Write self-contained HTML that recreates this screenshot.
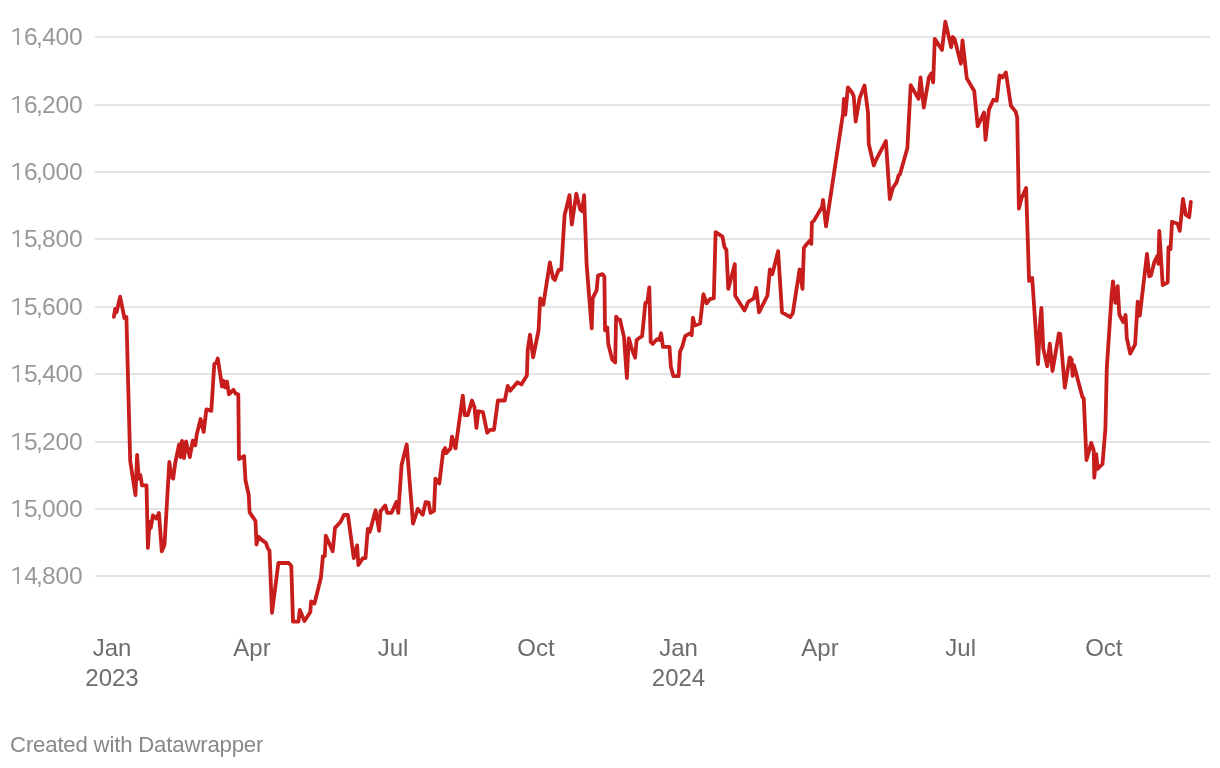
<!DOCTYPE html>
<html><head><meta charset="utf-8"><style>
html,body{margin:0;padding:0;background:#fff;width:1220px;height:768px;overflow:hidden}
svg{display:block;position:absolute;left:0;top:0;will-change:transform}
text{font-family:"Liberation Sans",sans-serif}
.yl{font-size:24.6px;fill:#999999}
.xl{font-size:24px;fill:#6d6d6d;text-anchor:middle}
.ft{font-size:22.2px;fill:#888888}
</style></head><body>
<svg width="1220" height="768" viewBox="0 0 1220 768">
<rect x="95" y="36" width="1115" height="2" fill="#e4e4e4"/>
<rect x="95" y="104" width="1115" height="2" fill="#e4e4e4"/>
<rect x="95" y="171" width="1115" height="2" fill="#e4e4e4"/>
<rect x="95" y="238" width="1115" height="2" fill="#e4e4e4"/>
<rect x="95" y="306" width="1115" height="2" fill="#e4e4e4"/>
<rect x="95" y="373" width="1115" height="2" fill="#e4e4e4"/>
<rect x="95" y="441" width="1115" height="2" fill="#e4e4e4"/>
<rect x="95" y="508" width="1115" height="2" fill="#e4e4e4"/>
<rect x="95" y="575" width="1115" height="2" fill="#e4e4e4"/>
<path d="M12.5,31.50 L17.9,28.70" stroke="#999999" stroke-width="1.8" fill="none"/><rect x="17.15" y="28.00" width="1.8" height="17" fill="#999999"/>
<text class="yl" x="23.98 36.03 42.19 55.56 69.01" y="45.0">6,400</text>
<path d="M12.5,99.50 L17.9,96.70" stroke="#999999" stroke-width="1.8" fill="none"/><rect x="17.15" y="96.00" width="1.8" height="17" fill="#999999"/>
<text class="yl" x="23.98 36.03 42.11 55.56 69.01" y="113.0">6,200</text>
<path d="M12.5,166.50 L17.9,163.70" stroke="#999999" stroke-width="1.8" fill="none"/><rect x="17.15" y="163.00" width="1.8" height="17" fill="#999999"/>
<text class="yl" x="23.98 36.03 42.11 55.56 69.01" y="180.0">6,000</text>
<path d="M12.5,233.50 L17.9,230.70" stroke="#999999" stroke-width="1.8" fill="none"/><rect x="17.15" y="230.00" width="1.8" height="17" fill="#999999"/>
<text class="yl" x="24.08 36.03 42.11 55.56 69.01" y="247.0">5,800</text>
<path d="M12.5,301.50 L17.9,298.70" stroke="#999999" stroke-width="1.8" fill="none"/><rect x="17.15" y="298.00" width="1.8" height="17" fill="#999999"/>
<text class="yl" x="24.08 36.03 42.03 55.56 69.01" y="315.0">5,600</text>
<path d="M12.5,368.50 L17.9,365.70" stroke="#999999" stroke-width="1.8" fill="none"/><rect x="17.15" y="365.00" width="1.8" height="17" fill="#999999"/>
<text class="yl" x="24.08 36.03 42.19 55.56 69.01" y="382.0">5,400</text>
<path d="M12.5,436.50 L17.9,433.70" stroke="#999999" stroke-width="1.8" fill="none"/><rect x="17.15" y="433.00" width="1.8" height="17" fill="#999999"/>
<text class="yl" x="24.08 36.03 42.11 55.56 69.01" y="450.0">5,200</text>
<path d="M12.5,503.50 L17.9,500.70" stroke="#999999" stroke-width="1.8" fill="none"/><rect x="17.15" y="500.00" width="1.8" height="17" fill="#999999"/>
<text class="yl" x="24.08 36.03 42.11 55.56 69.01" y="517.0">5,000</text>
<path d="M12.5,570.50 L17.9,567.70" stroke="#999999" stroke-width="1.8" fill="none"/><rect x="17.15" y="567.00" width="1.8" height="17" fill="#999999"/>
<text class="yl" x="24.14 36.03 42.11 55.56 69.01" y="584.0">4,800</text>
<text class="xl" x="112" y="656">Jan</text>
<text class="xl" x="112" y="686">2023</text>
<text class="xl" x="252" y="656">Apr</text>
<text class="xl" x="393" y="656">Jul</text>
<text class="xl" x="536" y="656">Oct</text>
<text class="xl" x="678.5" y="656">Jan</text>
<text class="xl" x="678.5" y="686">2024</text>
<text class="xl" x="820" y="656">Apr</text>
<text class="xl" x="960.7" y="656">Jul</text>
<text class="xl" x="1103.8" y="656">Oct</text>
<path d="M113.9,316.8 L115.2,308.9 L116.6,312.2 L120.1,296.6 L124.4,318.1 L126.4,317.1 L130.2,461 L135.5,495.2 L137.1,454.8 L138.7,478.6 L140.4,475 L142,485.4 L146.5,485.4 L147.9,547.9 L149.6,522 L150.8,528 L152.9,515.4 L156.3,518.5 L158.9,513 L161.8,551.25 L164.5,545 L169.3,462 L171.3,476.6 L173.2,478.6 L175.2,463 L179.1,444.4 L180.5,457.1 L182,441 L184,458 L186,441.5 L189.8,457.1 L192.8,440.5 L195.3,445.4 L196.7,434.6 L200.6,419 L203.7,432 L206.4,409.3 L211.3,410.9 L214.3,364 L216.2,363 L217.8,358.5 L222,386.4 L223.4,380.6 L225,387.4 L227,381.6 L228.9,394.3 L233.4,389.8 L235.7,393.7 L238.3,394.3 L239,459 L244.1,456.1 L245.5,480.5 L248.7,494.6 L249.6,512.2 L252.2,516.1 L255.5,521 L256.5,544.5 L258.4,536.6 L261.4,539.6 L265.9,542.9 L267.8,548.4 L269.5,550.7 L272,612.8 L278.4,563 L288.7,563 L291.3,565.9 L293,621.6 L298.5,621.6 L299.8,609.9 L304.5,621 L310.3,612 L311.1,601.5 L314.5,603.5 L320.9,577.7 L322.9,556.2 L324.8,556.2 L325.8,535.7 L332.7,551.3 L335,527.9 L340.5,522 L344,514.8 L347.9,514.8 L353.75,558.1 L357.1,545.4 L358.4,565 L362.9,558.1 L365.5,558.1 L367.8,528.8 L369.8,531.8 L375.6,510.3 L379.1,530.8 L380.5,511.25 L385.2,505.4 L387.2,512.8 L391.5,512.8 L396.4,502 L398.3,512.8 L401.6,465 L406.7,444.5 L413,523.6 L417.85,508.9 L422.7,514.8 L425.7,502 L428.6,502.7 L430.5,512.8 L434,510.9 L435.4,478.6 L439.3,483.5 L443.2,451.3 L445.2,448 L446.2,453.2 L450.5,448.4 L452,436.6 L455.5,448.4 L462.8,395.6 L464.7,415.2 L467.7,415.2 L472,400.5 L474.5,407.3 L476.4,427.9 L478.4,411.25 L482.9,412.2 L487.2,432.7 L490.1,429.8 L494,429.8 L497.9,400.5 L504.8,400.5 L507.7,385.9 L510.2,390.7 L517.5,382.3 L521.4,384.4 L526.9,375.6 L527.7,350.3 L530,334.7 L533.1,357.3 L538.6,330 L540.2,298.4 L543.3,304.7 L549.9,262.4 L552.9,277.7 L554.8,280 L558.7,269.8 L561.25,269.8 L564.6,215.2 L569.5,195.2 L571.8,224.5 L576.3,193.7 L580.2,209.3 L582.1,211.25 L584.1,195.2 L586.6,264 L591.7,328.4 L592.7,298.1 L596.6,290.3 L598,275.6 L602.5,274.1 L604.4,276.6 L605,330.3 L607.3,327.4 L608.3,344 L612.2,359.6 L615.2,362.5 L616.1,316.6 L618.1,319.6 L620,319.6 L624,337.1 L626.9,378.2 L628.8,338.1 L631.8,348.9 L635.1,357.7 L636.6,340.1 L639,338.1 L642.1,336.2 L645.4,303 L647.4,302 L649.3,287.3 L650.7,342 L652.7,344 L657.1,339.1 L659.1,340.1 L661.1,333.2 L663,346.9 L669.5,346.9 L670.8,366.4 L673.4,376.2 L678.6,376.2 L680,351.8 L682.5,345.9 L685.1,336.2 L690.3,333.2 L691.7,335.2 L692.9,317.6 L694.8,325.4 L700.1,323.5 L703.4,294.2 L706.6,303.4 L709.9,299.1 L713.8,298.1 L715.6,232.2 L722.5,236.7 L724.4,246.9 L726.4,249.8 L728.3,288.9 L734.8,264.1 L735.2,295.7 L744.5,310.4 L748.4,301.6 L753.7,298.6 L756.25,287.9 L759,312.3 L767.4,295.7 L769.9,269.3 L772.3,274.2 L778.1,251.2 L782,312.3 L790.2,317.2 L792.8,313.3 L799.6,269.3 L802.5,288.9 L803.9,247.85 L806.4,244.5 L810.4,240 L811.3,243.9 L811.9,222.5 L813.7,221.1 L822.1,206.8 L823,200 L826,226.4 L843,113.7 L843.9,99 L845.3,114.7 L847.9,87.3 L851.8,92.2 L853.7,96.1 L855.7,121.5 L859.6,98.1 L864.5,85.4 L868,112.7 L868.75,144 L873.8,165.5 L876.2,159.6 L885.9,141.05 L889.8,199.1 L892.8,188 L896.7,182.1 L898.6,175.2 L900,174.3 L907.4,147.9 L910.7,85.2 L918.55,98.9 L920.5,77.4 L923.8,107.7 L928.9,77.4 L931.25,73.5 L933.2,82.3 L934.8,38.9 L942,50 L945.3,21.7 L951.2,47.1 L952.7,37 L954.7,39.3 L960.9,63.7 L962.5,40.3 L966.8,78.4 L974.2,91.05 L977.7,126.2 L984,112.5 L985.5,139.9 L988.9,109.6 L993.4,99.8 L996.7,100.8 L999.6,75.4 L1002.5,77.4 L1005.9,72.5 L1010.9,105.7 L1015.6,111.6 L1017.2,117.4 L1018.9,208.6 L1021.6,197.9 L1026.1,188.1 L1029.1,280.9 L1032.2,277.9 L1038,364.2 L1040,324.2 L1041.4,308 L1043.3,348.6 L1047.2,366.2 L1049.8,343.7 L1052.5,371.05 L1058.9,333.4 L1060.3,334 L1064.8,387.7 L1069.7,357.4 L1071.6,359.3 L1072.6,375.9 L1074,365.2 L1082.4,397 L1083.75,398.4 L1086.5,460.1 L1091.2,442.9 L1093.7,450.3 L1094.3,477.7 L1096.25,454.2 L1097.6,468.9 L1102.5,464 L1105.4,428.8 L1106.8,368.1 L1111.7,293.9 L1113,281.3 L1115.4,302.8 L1117.7,286.2 L1119.3,314.5 L1123.2,322 L1125.6,315 L1126.8,338 L1130.2,353.5 L1135.1,344.3 L1137.7,301.7 L1139.8,315.5 L1147,254 L1149.2,276.4 L1150.9,275.5 L1154.45,261.8 L1157.4,255.9 L1158.4,263.75 L1159.3,230.9 L1162.7,285.2 L1167.7,282.3 L1168.5,247.1 L1170.5,249.1 L1172,221.75 L1177.5,223.7 L1179.8,230.9 L1183,199 L1185.8,214.8 L1189.2,217.2 L1190.8,202" fill="none" stroke="#c71e1d" stroke-width="3.8" stroke-linejoin="round" stroke-linecap="round"/>
<text class="ft" x="10.07" y="751.7" textLength="253.3" lengthAdjust="spacing">Created with Datawrapper</text>
</svg>
</body></html>
